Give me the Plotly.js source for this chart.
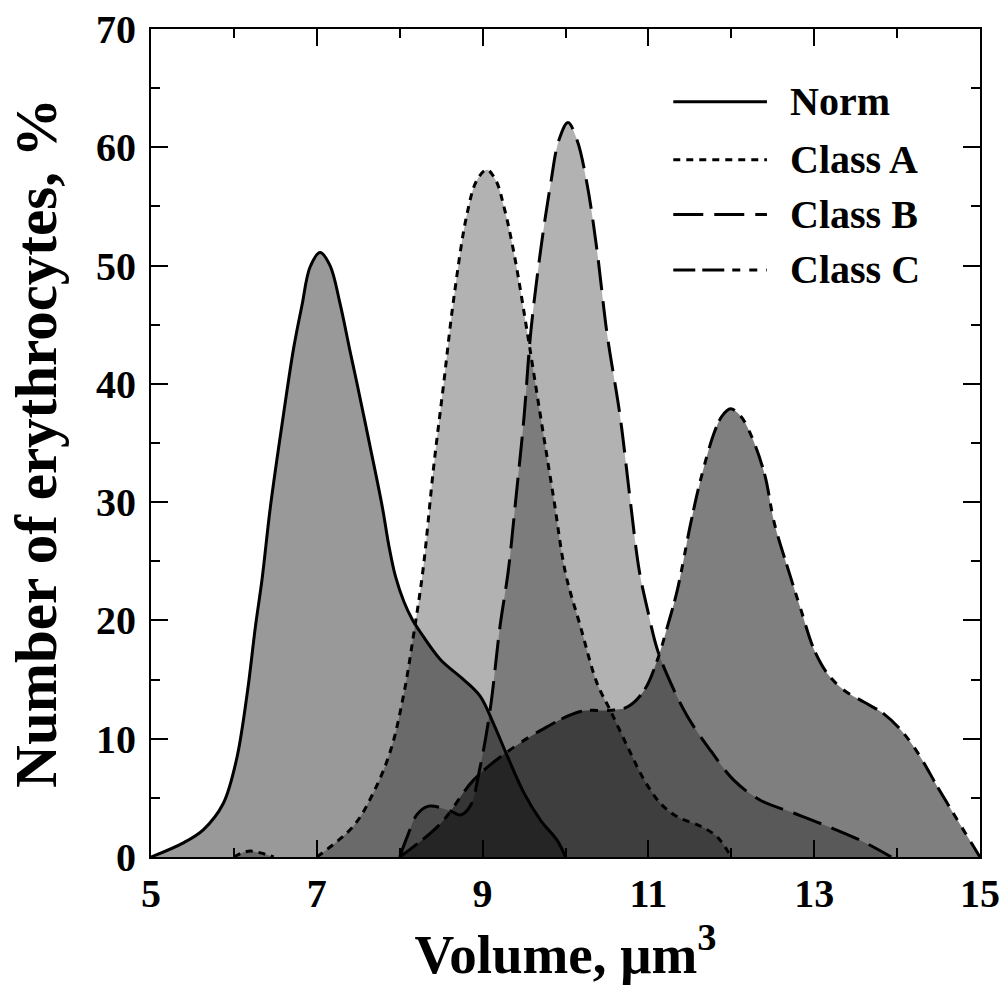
<!DOCTYPE html>
<html>
<head>
<meta charset="utf-8">
<script src="https://cdn.plot.ly/plotly-3.0.1.min.js"></script>
<style>html,body{margin:0;padding:0;background:#fff;}#chart{width:1003px;height:985px;}</style>
</head>
<body>
<div id="chart"></div>
<script>
// ---- Data ----
const seriesNames = ["Norm", "Class A", "Class B", "Class C"];

const normX = [5.0, 5.39, 5.63, 5.87, 6.03, 6.16, 6.26, 6.34, 6.44, 6.60, 6.72, 6.82, 6.92, 7.04, 7.16, 7.28, 7.40, 7.48, 7.64, 7.79, 7.87, 7.95, 8.05, 8.15, 8.25, 8.49, 8.77, 8.97, 9.13, 9.30, 9.50, 9.70, 9.90, 10.0];
const normY = [0, 1.2, 2.3, 4.5, 8.2, 13.8, 19.5, 23.5, 29.6, 37.5, 43.0, 46.6, 49.9, 51.1, 50.0, 46.8, 42.8, 40.2, 34.8, 29.6, 26.3, 23.7, 21.6, 20.1, 19.0, 16.7, 15.0, 13.6, 11.3, 8.5, 5.4, 3.1, 1.4, 0];

const classAX = [6.0, 6.1, 6.2, 6.32, 6.48, null, 7.0, 7.44, 7.68, 7.89, 8.05, 8.17, 8.28, 8.41, 8.53, 8.65, 8.81, 8.93, 9.05, 9.16, 9.26, 9.38, 9.54, 9.70, 9.86, 10.0, 10.18, 10.38, 10.54, 10.75, 10.95, 11.15, 11.35, 11.63, 11.83, 12.0];
const classAY = [0, 0.35, 0.5, 0.35, 0, null, 0, 2.6, 5.4, 9.0, 13.8, 18.9, 24.2, 33.0, 40.0, 47.1, 54.3, 57.2, 58.1, 57.2, 54.9, 51.0, 44.3, 37.2, 30.2, 24.0, 19.5, 14.7, 12.4, 9.3, 6.5, 4.5, 3.4, 2.6, 1.7, 0];

const classBX = [8.0, 8.09, 8.21, 8.35, 8.61, 8.73, 8.85, 8.97, 9.09, 9.21, 9.31, 9.40, 9.50, 9.58, 9.70, 9.82, 9.92, 10.03, 10.14, 10.26, 10.38, 10.50, 10.66, 10.78, 10.89, 10.99, 11.11, 11.27, 11.47, 11.75, 12.03, 12.35, 12.76, 13.16, 13.56, 13.93];
const classBY = [0, 1.7, 3.6, 4.3, 3.9, 3.55, 4.3, 7.6, 12.4, 19.5, 24.2, 30.2, 37.2, 44.3, 51.3, 56.9, 60.6, 62.1, 60.6, 56.9, 51.3, 44.3, 37.2, 30.2, 24.2, 20.9, 17.5, 14.7, 11.9, 9.0, 6.5, 4.8, 3.7, 2.6, 1.4, 0];

const classCX = [8.0, 8.49, 8.89, 9.30, 9.70, 10.18, 10.54, 10.75, 10.95, 11.11, 11.23, 11.35, 11.51, 11.63, 11.79, 11.89, 11.99, 12.11, 12.23, 12.40, 12.52, 12.70, 12.84, 13.0, 13.16, 13.36, 13.60, 13.84, 14.05, 14.25, 14.49, 14.73, 15.0];
const classCY = [0, 2.8, 6.5, 8.9, 10.7, 12.3, 12.4, 12.7, 14.1, 16.7, 19.5, 22.6, 28.2, 31.9, 35.8, 37.3, 37.9, 37.3, 35.8, 32.4, 28.2, 24.0, 20.9, 17.5, 15.5, 14.1, 13.1, 12.1, 10.7, 8.8, 5.9, 3.1, 0];

const xTickVals = [5, 7, 9, 11, 13, 15];
const yTickVals = [0, 10, 20, 30, 40, 50, 60, 70];

// ---- Styles ----
const FONT = "Liberation Serif, Times New Roman, serif";
const xs = [normX, classAX, classBX, classCX];
const ys = [normY, classAY, classBY, classCY];
const fills = ["rgba(0,0,0,0.40)", "rgba(0,0,0,0.30)", "rgba(0,0,0,0.30)", "rgba(0,0,0,0.50)"];
const dashes = ["solid", "7px,6px", "30px,11px", "22px,7px,22px,8px,8px,9px,8px,9px"];

const traces = [];
// fills first
for (let i = 0; i < 4; i++) {
  traces.push({
    type: "scatter", mode: "lines", x: xs[i], y: ys[i],
    fill: "tozeroy", fillcolor: fills[i],
    line: {width: 0, shape: "spline", smoothing: 1, color: "rgba(0,0,0,0)"},
    connectgaps: false, showlegend: false, hoverinfo: "skip", name: seriesNames[i]
  });
}
// outlines on top
for (let i = 0; i < 4; i++) {
  traces.push({
    type: "scatter", mode: "lines", x: xs[i], y: ys[i],
    line: {width: 3, shape: "spline", smoothing: 1, color: "#000", dash: dashes[i]},
    connectgaps: false, showlegend: false, name: seriesNames[i]
  });
}

// manual legend
const legRowsY = [0.912, 0.842, 0.776, 0.709];
const shapes = [];
const annotations = [];
for (let i = 0; i < 4; i++) {
  shapes.push({
    type: "line", xref: "paper", yref: "paper",
    x0: 0.630, x1: 0.743, y0: legRowsY[i], y1: legRowsY[i],
    line: {color: "#000", width: 3, dash: dashes[i]}
  });
  annotations.push({
    xref: "paper", yref: "paper", x: 0.768, y: legRowsY[i],
    xanchor: "left", yanchor: "middle", showarrow: false,
    text: seriesNames[i],
    font: {family: FONT, size: 40, color: "#000", weight: "bold"}
  });
}

const axisCommon = {
  showline: true, linewidth: 2, linecolor: "#000", mirror: "ticks",
  ticks: "inside", ticklen: 17, tickwidth: 2, tickcolor: "#000",
  showgrid: false, zeroline: false,
  tickfont: {family: FONT, size: 40, color: "#000", weight: "bold"},
  automargin: false
};

const layout = {
  width: 1003, height: 985,
  margin: {l: 151, r: 23, t: 29, b: 128},
  paper_bgcolor: "#fff", plot_bgcolor: "#fff",
  showlegend: false,
  xaxis: Object.assign({}, axisCommon, {
    range: [5, 15], tickvals: xTickVals, ticktext: xTickVals.map(String),
    minor: {dtick: 1, tick0: 5, ticks: "inside", ticklen: 9, tickwidth: 2, tickcolor: "#000"},
    title: {text: "Volume, μm<sup>3</sup>", standoff: 10,
            font: {family: FONT, size: 55, color: "#000", weight: "bold"}}
  }),
  yaxis: Object.assign({}, axisCommon, {
    range: [0, 70], tickvals: yTickVals, ticktext: yTickVals.map(String),
    ticklabelstandoff: 5,
    minor: {dtick: 5, tick0: 0, ticks: "inside", ticklen: 9, tickwidth: 2, tickcolor: "#000"},
    title: {text: "Number of erythrocytes, %", standoff: 20,
            font: {family: FONT, size: 59, color: "#000", weight: "bold"}}
  }),
  shapes: shapes,
  annotations: annotations
};

Plotly.newPlot("chart", traces, layout, {displayModeBar: false, staticPlot: true});
</script>
</body>
</html>
